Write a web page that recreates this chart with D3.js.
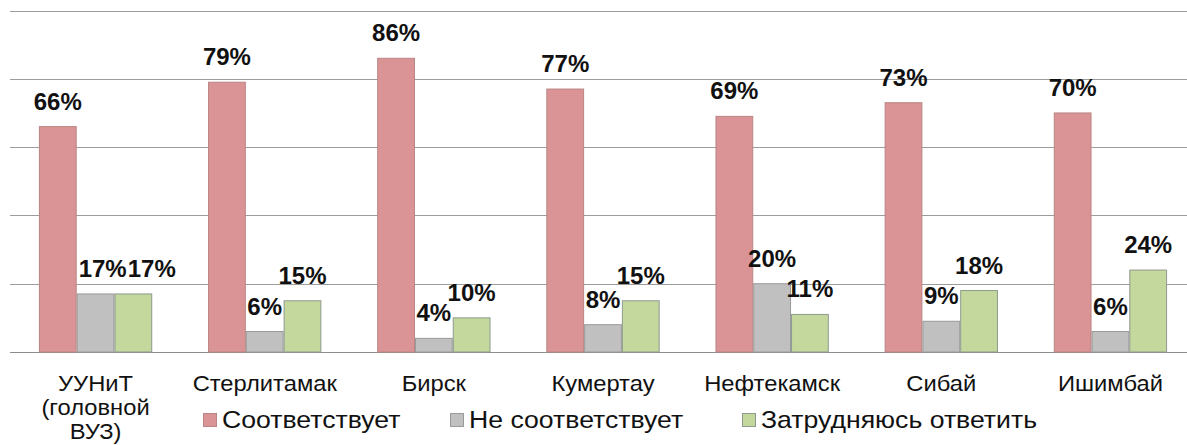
<!DOCTYPE html>
<html>
<head>
<meta charset="utf-8">
<script src="https://cdn.jsdelivr.net/npm/d3@7"></script>
<style>
html,body{margin:0;padding:0;background:#fff;}
svg{display:block;}
</style>
</head>
<body>
<svg id="chart" width="1187" height="445"></svg>
<script>
const categories = ["УУНиТ (головной ВУЗ)", "Стерлитамак", "Бирск", "Кумертау", "Нефтекамск", "Сибай", "Ишимбай"];
const categoryLines = [["УУНиТ", "(головной", "ВУЗ)"], ["Стерлитамак"], ["Бирск"], ["Кумертау"], ["Нефтекамск"], ["Сибай"], ["Ишимбай"]];
const seriesNames = ["Соответствует", "Не соответствует", "Затрудняюсь ответить"];
const matches = [66, 79, 86, 77, 69, 73, 70];
const notMatches = [17, 6, 4, 8, 20, 9, 6];
const hardToSay = [17, 15, 10, 15, 11, 18, 24];
const yTicks = [0, 20, 40, 60, 80, 100];

const seriesValues = [matches, notMatches, hardToSay];
const fills = ["#DB9495", "#C0C0C0", "#C4D79C"];
const strokes = ["#B98584", "#9A9A9A", "#8E9A90"];
const FONT = "'Liberation Sans', Arial, sans-serif";

const svg = d3.select("#chart");
const W = 1187, H = 445;
const plot = {left: 11, right: 1195, top: 10.5, bottom: 352};

const x0 = d3.scaleBand().domain(categories).range([plot.left, plot.right])
  .paddingInner(0.33).paddingOuter(0.165);
const x1 = d3.scaleBand().domain(seriesNames).range([0, x0.bandwidth()]).padding(0);
const y = d3.scaleLinear().domain([0, 100]).range([plot.bottom, plot.top]);

// gridlines
const grid = svg.append("g");
grid.selectAll("line").data(yTicks).join("line")
  .attr("x1", 10).attr("x2", W)
  .attr("y1", d => Math.round(y(d)) + 0.5).attr("y2", d => Math.round(y(d)) + 0.5)
  .attr("stroke", d => d === 0 ? "#8C8C8C" : "#9C9C9C")
  .attr("stroke-width", 1.2);

// bars
const data = [];
categories.forEach((c, i) => {
  seriesNames.forEach((s, j) => {
    data.push({cat: c, ser: s, j: j, v: seriesValues[j][i], i: i});
  });
});

const bars = svg.append("g");
bars.selectAll("rect").data(data).join("rect")
  .attr("x", d => x0(d.cat) + x1(d.ser) + 0.5)
  .attr("y", d => y(d.v))
  .attr("width", x1.bandwidth() - 1)
  .attr("height", d => y(0) - y(d.v))
  .attr("fill", d => fills[d.j])
  .attr("stroke", d => strokes[d.j])
  .attr("stroke-width", 1);

// value labels
const labels = svg.append("g")
  .attr("font-family", FONT).attr("font-weight", "bold").attr("font-size", 24).attr("fill", "#111");
const lab = labels.selectAll("text").data(data).join("text")
  .attr("x", d => x0(d.cat) + x1(d.ser) + x1.bandwidth() / 2)
  .attr("y", d => y(d.v) - 17)
  .attr("text-anchor", "middle")
  .text(d => d.v + "%");

// resolve overlap between gray & green labels in same group at same height
lab.each(function(d){ d.w = this.getComputedTextLength(); });
categories.forEach(c => {
  const g = lab.filter(d => d.cat === c && d.j === 1);
  const gr = lab.filter(d => d.cat === c && d.j === 2);
  const dg = g.datum(), dr = gr.datum();
  const cg = x0(c) + x1(dg.ser) + x1.bandwidth() / 2;
  const cr = x0(c) + x1(dr.ser) + x1.bandwidth() / 2;
  const sameRow = Math.abs(y(dg.v) - y(dr.v)) < 20;
  if (sameRow && cg + dg.w / 2 > cr - dr.w / 2) {
    const gl = x0(c) + x1(dg.ser) + 2;
    g.attr("text-anchor", "start").attr("x", gl);
    gr.attr("text-anchor", "start").attr("x", gl + dg.w + 1);
  }
});

// category labels (slightly wide glyphs as in the original)
const cat = svg.append("g").attr("font-family", FONT).attr("font-size", 22).attr("fill", "#111");
categories.forEach((c, i) => {
  const cx = x0(c) + x0.bandwidth() / 2;
  categoryLines[i].forEach((ln, k) => {
    cat.append("text").attr("text-anchor", "middle")
      .attr("transform", `translate(${cx},${391 + k * 24}) scale(1.08,1)`)
      .text(ln);
  });
});

// legend
const legendX = [203, 450, 742];
const leg = svg.append("g").attr("font-family", FONT).attr("font-size", 24).attr("fill", "#111");
seriesNames.forEach((s, j) => {
  leg.append("rect").attr("x", legendX[j] + 0.5).attr("y", 413.5).attr("width", 13).attr("height", 13)
    .attr("fill", fills[j]).attr("stroke", strokes[j]).attr("stroke-width", 1);
  leg.append("text").attr("transform", `translate(${legendX[j] + 19},428) scale(1.11,1)`).text(s);
});
</script>
</body>
</html>
